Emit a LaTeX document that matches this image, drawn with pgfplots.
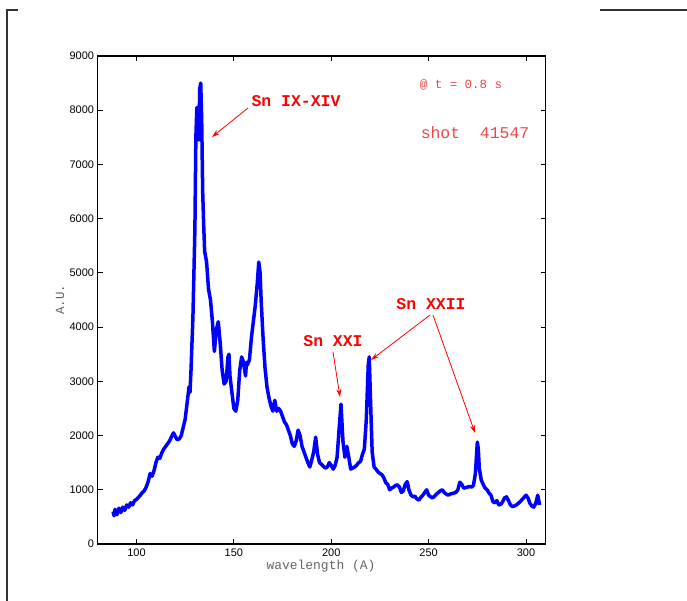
\documentclass[border=0pt]{standalone}
\usepackage{fontspec}
\setmainfont{Liberation Sans}
\setmonofont{Liberation Mono}
\usepackage{pgfplots}
\pgfplotsset{compat=1.18}
\usetikzlibrary{arrows.meta}
\definecolor{curveblue}{RGB}{0,0,255}
\definecolor{annred}{RGB}{255,0,0}
\definecolor{lightred}{RGB}{240,70,70}
\definecolor{labgray}{RGB}{100,100,100}
\pgfplotstableread{
x y
88 600
88.5 520
89 640
90 540
91 660
92 580
93 680
94 620
95 720
96 680
97 760
98 720
99 800
100 820
101 860
102 900
103 950
104 980
105 1050
106 1150
107 1300
108 1250
109 1350
110 1500
111 1600
112 1580
113 1680
114 1750
115 1800
116 1850
117 1900
118 1980
119 2050
120 1980
121 1920
122 1940
123 2000
124 2150
125 2300
126 2600
127 2900
127.5 2800
128 3200
129 4200
130 5800
130.5 7500
131 8050
131.5 7600
132 7450
132.5 8400
133 8500
133.5 7800
134 6500
134.5 5900
135 5400
136 5200
137 4700
138 4500
139 4100
140 3550
141 3950
142 4100
143 3700
144 3200
145 2950
146 3000
147 3450
147.5 3500
148 3100
149 2800
150 2500
151 2450
152 2650
153 3200
154 3450
155 3350
156 3100
156.5 3350
157 3300
158 3400
159 3800
160 4100
161 4400
162 4800
162.8 5200
163.5 5000
164 4500
165 3800
166 3250
167 2900
168 2700
169 2550
170 2450
171 2650
172 2450
173 2500
174 2450
175 2350
176 2250
177 2200
178 2100
179 2000
180 1850
181 1800
182 1900
183 2100
184 2000
185 1800
186 1700
187 1600
188 1500
189 1420
190 1550
191 1700
192 1970
193 1650
194 1500
195 1470
196 1430
197 1400
198 1420
199 1500
200 1450
201 1380
202 1450
203 1600
204 2100
205 2580
206 1900
207 1600
208 1800
209 1600
210 1380
211 1400
212 1420
213 1450
214 1500
215 1520
216 1650
217 1750
218 2300
219 3300
219.5 3450
220.3 2500
221 1700
222 1420
223 1380
224 1330
225 1300
226 1280
227 1220
228 1130
229 1100
230 1000
231 1030
232 1050
233 1080
234 1090
235 1050
236 950
237 980
238 1100
239 1150
240 980
241 900
242 870
243 880
244 830
245 810
246 860
247 900
248 950
249 1000
250 900
251 870
252 850
253 880
254 920
255 950
256 980
257 1000
258 950
259 920
260 900
261 920
262 930
263 940
264 950
265 1000
266 1140
267 1100
268 1030
269 1040
270 1050
271 1060
272 1050
273 1080
274 1300
275 1880
275.5 1750
276 1400
277 1180
278 1100
279 1030
280 1000
281 940
282 900
283 780
284 760
285 800
286 720
287 730
288 780
289 850
290 870
291 800
292 720
293 690
294 700
295 720
296 750
297 780
298 820
299 860
300 900
301 850
302 750
303 700
304 680
305 750
306 900
307 720
}\spectrum
\begin{document}
\begin{tikzpicture}[x=1bp,y=1bp]
\useasboundingbox (0,0) rectangle (687,601);
\draw[line width=1.2bp, black!80] (7,0) -- (7,591) -- (18,591);
\draw[line width=1.2bp, black!80] (600,591) -- (687,591);
\begin{axis}[
  at={(97.5bp,57bp)}, anchor=south west,
  scale only axis, width=448bp, height=488bp,
  xmin=80, xmax=310, ymin=0, ymax=9000,
  xtick={100,150,...,300}, ytick={0,1000,...,9000},
  tick align=inside, tick pos=both,
  major tick length=5bp,
  axis line style={line width=1.3bp},
  every tick/.style={black, line width=0.9bp},
  tick label style={font=\fontsize{11}{13}\selectfont},
  xticklabel style={yshift=-1bp},
  /pgf/number format/assume math mode=true,
  /pgf/number format/1000 sep={},
  clip=false,
]
\addplot[curveblue, line width=3.5bp, line join=round] table[x=x,y=y] {\spectrum};
\end{axis}
\node[font=\ttfamily\fontsize{13}{15}\selectfont, text=labgray] at (321,35) {wavelength (A)};
\node[font=\ttfamily\fontsize{12.5}{15}\selectfont, text=labgray, rotate=90] at (60,301) {A.U.};
\node[font=\ttfamily\fontsize{12.5}{14}\selectfont, text=lightred] at (461,516) {@ t = 0.8 s};
\node[font=\ttfamily\fontsize{16.5}{18}\selectfont, text=lightred] at (475,468) {shot\ \ 41547};
\node[font=\ttfamily\bfseries\fontsize{16.5}{18}\selectfont, text=annred] at (296,500) {Sn IX-XIV};
\node[font=\ttfamily\bfseries\fontsize{16.5}{18}\selectfont, text=annred] at (333,260) {Sn XXI};
\node[font=\ttfamily\bfseries\fontsize{16.5}{18}\selectfont, text=annred] at (431,297) {Sn XXII};
\begin{scope}[annred, line width=0.8bp, -{Stealth[length=8bp,width=5bp]}]
\draw (248,493) -- (212,464);
\draw (333,249) -- (340,204);
\draw (430,286) -- (371,241);
\draw (433,286) -- (475,168);
\end{scope}
\end{tikzpicture}
\end{document}
